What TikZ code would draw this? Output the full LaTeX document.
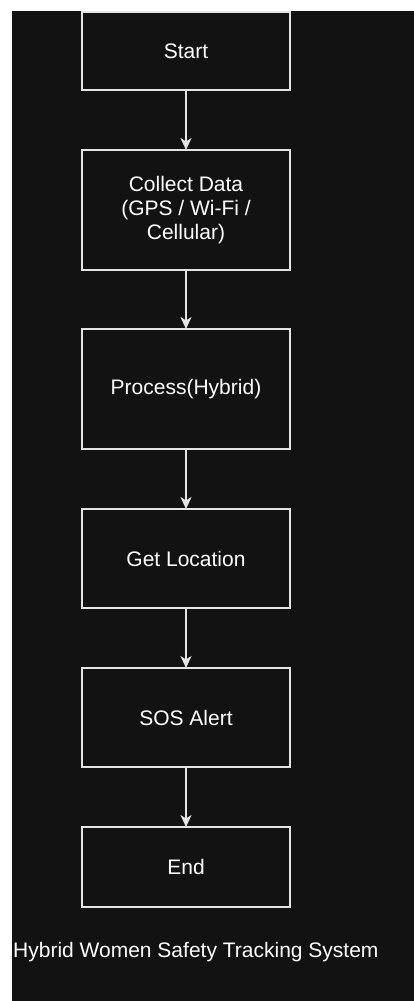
\documentclass[tikz,border=0pt]{standalone}
\usepackage{fontspec}
\setmainfont{Liberation Sans}
\usepackage{xcolor}
\usetikzlibrary{positioning,arrows.meta}
\definecolor{bgdark}{HTML}{121212}
\definecolor{edgegray}{HTML}{E4E4E4}

\begin{document}
\begin{tikzpicture}[x=1pt,y=1pt,
  node distance=60pt,
  stepbox/.style={draw=edgegray, line width=1.6pt, text=white, align=center,
                  minimum width=208pt, inner sep=0pt, outer sep=0pt,
                  font=\fontsize{21}{24}\selectfont},
  flow/.style={draw=edgegray, line width=1.6pt,
               -{Stealth[length=12pt,width=11pt,inset=3.5pt]}}]
  \useasboundingbox (0,0) rectangle (414,-1001);
  \fill[white] (0,0) rectangle (414,-1001);
  \fill[bgdark] (12,-11) rectangle (414,-1001);

  \node[stepbox, minimum height=78pt] (start) at (186,-51) {Start};
  \node[stepbox, minimum height=120pt, below=of start] (collect)
        {Collect Data\\(GPS / Wi-Fi /\\Cellular)};
  \node[stepbox, minimum height=120pt, below=59pt of collect] (process) {Process(Hybrid)};
  \node[stepbox, minimum height=99pt, below=of process] (getloc) {Get Location};
  \node[stepbox, minimum height=99pt, below=of getloc] (sos) {SOS Alert};
  \node[stepbox, minimum height=80pt, below=of sos] (end) {End};

  \node[anchor=west, inner sep=0pt, text=white, font=\fontsize{21}{24}\selectfont]
        (title) at (13,-952) {Hybrid Women Safety Tracking System};

  \draw[flow] (start) -- (collect);
  \draw[flow] (collect) -- (process);
  \draw[flow] (process) -- (getloc);
  \draw[flow] (getloc) -- (sos);
  \draw[flow] (sos) -- (end);
\end{tikzpicture}
\end{document}
